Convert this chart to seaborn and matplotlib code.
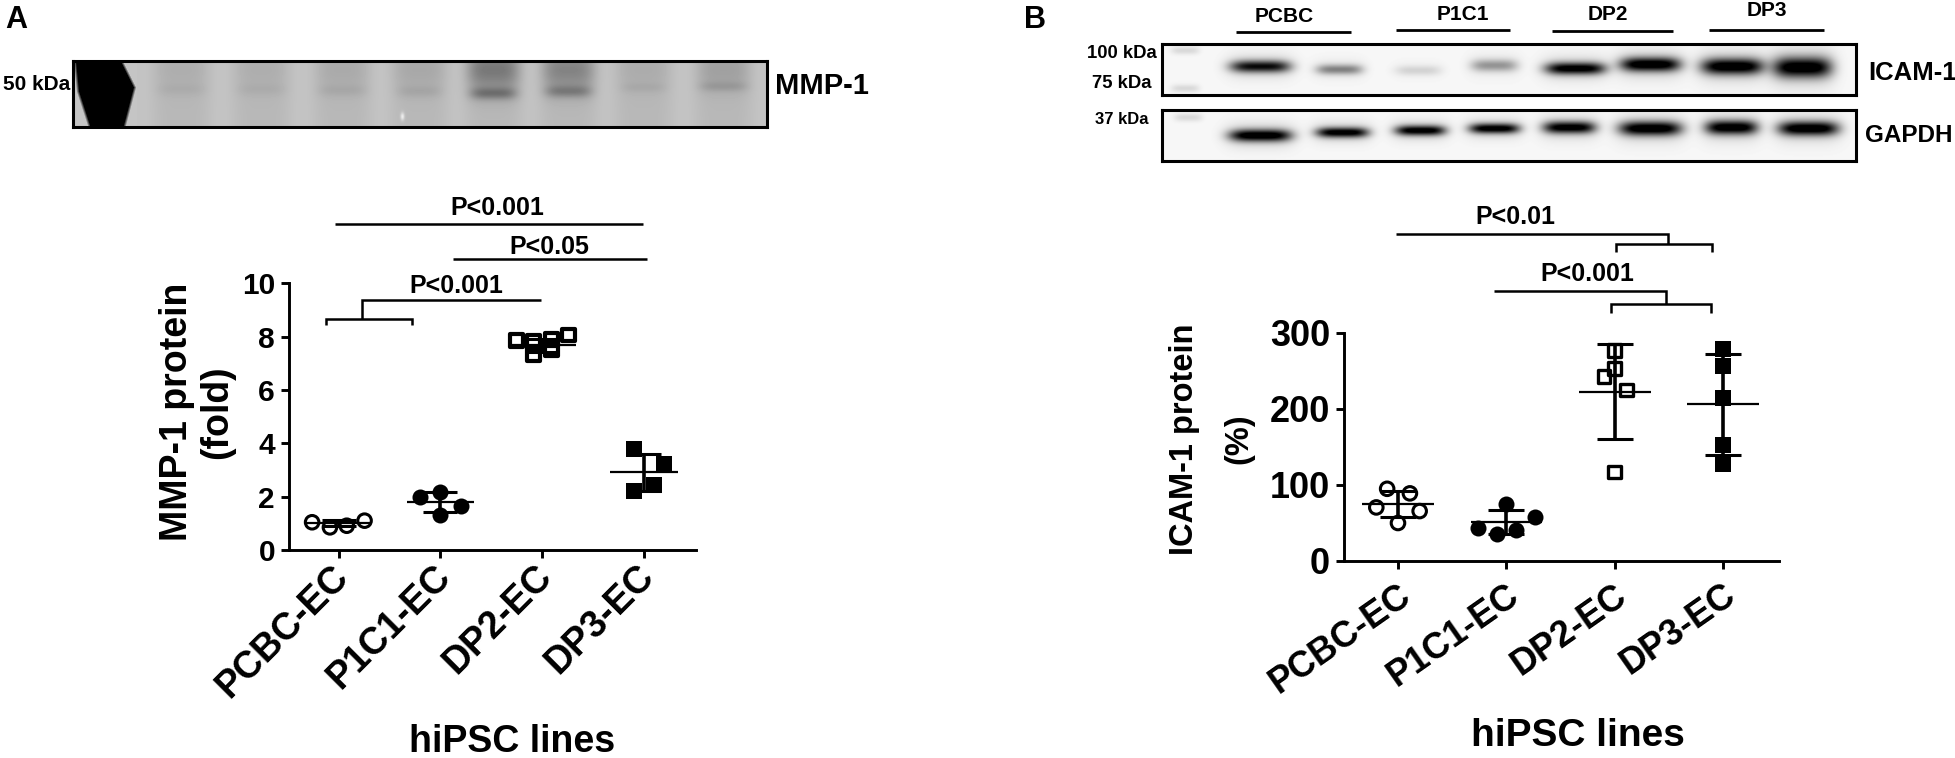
import matplotlib
matplotlib.use('Agg')
import matplotlib.pyplot as plt
from matplotlib.lines import Line2D
from matplotlib.transforms import ScaledTranslation
import seaborn as sns
import pandas as pd
import numpy as np

FIG_W, FIG_H = 1955, 758

CELL_LINES = ['PCBC-EC', 'P1C1-EC', 'DP2-EC', 'DP3-EC']

# Panel A, MMP-1 fold
MMP_PCBC = [1.04, 0.85, 0.91, 1.10]
MMP_P1C1 = [1.98, 2.19, 1.65, 1.31]
MMP_DP2 = [7.86, 7.81, 7.53, 8.06, 7.31, 7.90]
MMP_DP3 = [3.78, 3.21, 2.44, 2.20]
MMP_JITTER = [
    [-0.26, -0.085, 0.08, 0.255],
    [-0.2, 0.0, 0.2, 0.0],
    [-0.25, -0.085, 0.09, 0.255, -0.085, 0.09],
    [-0.1, 0.2, 0.1, -0.1],
]
MMP_MEAN = [1.02, 1.79, 7.68, 2.91]
MMP_SD = [0.12, 0.38, 0.24, 0.70]

# Panel B, ICAM-1 percent
ICAM_PCBC = [95, 89, 70.5, 65.7, 50]
ICAM_P1C1 = [75, 58, 43, 35.5, 41]
ICAM_DP2 = [277, 253, 243, 225, 117]
ICAM_DP3 = [279, 257, 215, 153, 127]
ICAM_JITTER = [
    [-0.1, 0.11, -0.2, 0.2, 0.0],
    [0.0, 0.26, -0.26, -0.09, 0.09],
    [0.0, 0.0, -0.1, 0.11, 0.0],
    [0.0, 0.0, 0.0, 0.0, 0.0],
]
ICAM_MEAN = [75, 51, 223, 206]
ICAM_SD = [17, 16, 63, 66]

# Blot lanes: centre x, band y, band half width, band half height, darkness
MMP_BANDS = [
    (108, 28, 24, 6, 0.05), (188, 28, 24, 6, 0.05), (269, 29, 24, 6, 0.07),
    (346, 30, 22, 6, 0.08), (420, 32, 23, 6, 0.33), (495, 30, 23, 6, 0.27),
    (570, 26, 22, 5, 0.06), (650, 25, 24, 5, 0.12),
]
ICAM_BANDS = [
    (98, 22, 30, 6, 0.85), (177, 25, 23, 5, 0.42), (256, 26, 23, 5, 0.13),
    (332, 21, 23, 6, 0.35), (413, 24, 30, 6, 0.95), (488, 20, 30, 7, 1.0),
    (570, 22, 31, 8, 1.0), (640, 23, 29, 10, 1.0),
]
GAPDH_BANDS = [
    (98, 25, 31, 6, 1.0), (180, 22, 26, 5, 0.95), (258, 20, 25, 5, 0.95),
    (332, 18, 25, 5, 0.95), (407, 17, 26, 6, 0.95), (488, 18, 31, 7, 1.0),
    (569, 17, 26, 7, 0.98), (646, 18, 30, 7, 1.0),
]


def px_axes(fig, left, top, right, bottom):
    """Axes placed by pixel edges, y measured from the top."""
    return fig.add_axes([left / FIG_W, 1 - bottom / FIG_H,
                         (right - left) / FIG_W, (bottom - top) / FIG_H])


def px_text(fig, x, y, s, size, weight='bold', ha='center'):
    fig.text(x / FIG_W, 1 - y / FIG_H, s, fontsize=size, fontweight=weight,
             ha=ha, va='center', color='black')


def px_line(fig, xs, ys, lw=1.8):
    fig.add_artist(Line2D([x / FIG_W for x in xs], [1 - y / FIG_H for y in ys],
                          color='black', lw=lw, solid_capstyle='butt',
                          solid_joinstyle='miter'))


def band_layer(xx, yy, bands):
    dark = np.zeros_like(xx)
    for cx, cy, wx, wy, amount in bands:
        core = np.exp(-(np.abs(xx - cx) / wx) ** 4 - (np.abs(yy - cy) / wy) ** 2)
        halo = np.exp(-(np.abs(xx - cx) / (wx + 4)) ** 4 - (np.abs(yy - cy) / (wy * 2.2)) ** 2)
        dark += amount * (core + 0.15 * halo)
    return np.clip(dark, 0, 1)


def draw_blot(ax, img):
    ax.imshow(img, cmap='gray', vmin=0, vmax=1, aspect='auto')
    ax.set_xticks([])
    ax.set_yticks([])
    for spine in ax.spines.values():
        spine.set_visible(True)
        spine.set_linewidth(2.2)
        spine.set_color('black')


def mmp_blot():
    w, h = 694, 66
    xx, yy = np.meshgrid(np.arange(w, dtype=float), np.arange(h, dtype=float))
    img = np.full((h, w), 0.77)
    # lane smear, darker in the upper half of the middle lanes
    for (cx, _, _, _, amount) in MMP_BANDS:
        img -= 0.05 * np.exp(-((xx - cx) / 30) ** 4)
        img -= amount * 0.75 * np.exp(-((xx - cx) / 26) ** 4 - ((yy - 8) / 20) ** 2)
    img -= 0.62 * band_layer(xx, yy, MMP_BANDS)
    # saturated ladder blob on the left
    right = np.interp(yy, [0, 26, 64], [50, 63, 53])
    left = np.interp(yy, [0, 30, 64], [0, 3, 14])
    blob = np.clip(np.minimum(right - xx, xx - left) / 3, 0, 1)
    img = img * (1 - blob)
    img += 0.2 * np.exp(-((xx - 329) / 2) ** 2 - ((yy - 55) / 4) ** 2)
    return np.clip(img, 0, 1)


def wb_blot(bands, ladder):
    w, h = 694, 51
    xx, yy = np.meshgrid(np.arange(w, dtype=float), np.arange(h, dtype=float))
    img = np.full((h, w), 0.97)
    img -= 0.97 * band_layer(xx, yy, bands)
    for lx, ly in ladder:
        img -= 0.12 * np.exp(-((xx - lx) / 14) ** 4 - ((yy - ly) / 4) ** 2)
    return np.clip(img, 0, 1)


def plot_dots(ax, groups, jitter, means, sds, square_edge):
    """Scatter of each cell line with mean line and SD whiskers."""
    # marker, area, edge width (0 means filled)
    styles = [('o', 95, 2.2), ('o', 133, 0), ('s', 85, square_edge), ('s', 117, 0)]
    for i, (vals, off, (mk, area, edge)) in enumerate(zip(groups, jitter, styles)):
        df = pd.DataFrame({'pos': [i + o for o in off], 'value': vals})
        sns.scatterplot(data=df, x='pos', y='value', ax=ax, marker=mk, s=area,
                        color='none' if edge else 'black', edgecolor='black',
                        linewidth=edge, clip_on=False, zorder=3)
        ax.hlines(means[i], i - 0.33, i + 0.33, color='black', lw=1.6, zorder=4)
        ax.errorbar(i, means[i], yerr=sds[i], color='black', elinewidth=2.6,
                    capsize=0, zorder=4)
        ax.hlines([means[i] - sds[i], means[i] + sds[i]], i - 0.167, i + 0.167,
                  color='black', lw=2.2, zorder=4)


def style_axes(ax, xlim, ylim, yticks, tick_size, x_size, rot, pad, shift_x):
    ax.set_xlim(*xlim)
    ax.set_ylim(*ylim)
    ax.set_yticks(yticks)
    ax.set_xticks(range(4))
    ax.set_xticklabels(CELL_LINES, rotation=rot, ha='right',
                       rotation_mode='anchor', fontsize=x_size, fontweight='bold')
    ax.tick_params(axis='y', length=6, width=2.1, labelsize=tick_size, pad=4)
    ax.tick_params(axis='x', length=6, width=2.1, pad=pad)
    offset = ScaledTranslation(shift_x / 100, 0, ax.figure.dpi_scale_trans)
    for lab in ax.get_xticklabels():
        lab.set_transform(lab.get_transform() + offset)
    for lab in ax.get_yticklabels():
        lab.set_fontweight('bold')
    sns.despine(ax=ax)
    ax.spines['left'].set_linewidth(2.1)
    ax.spines['bottom'].set_linewidth(2.1)
    ax.patch.set_alpha(0)


def main():
    sns.set_theme(style='ticks')
    plt.rcParams['font.family'] = ['Liberation Sans', 'DejaVu Sans']
    plt.rcParams.update({'text.color': 'black', 'axes.labelcolor': 'black',
                         'xtick.color': 'black', 'ytick.color': 'black',
                         'axes.edgecolor': 'black'})
    fig = plt.figure(figsize=(FIG_W / 100, FIG_H / 100), dpi=100, facecolor='white')

    # --- Panel A ---
    px_text(fig, 16, 20, 'A', 22)
    ax_blot = px_axes(fig, 73, 61, 767, 127)
    draw_blot(ax_blot, mmp_blot())
    px_text(fig, 3, 85, '50 kDa', 15, ha='left')
    px_text(fig, 775, 86, 'MMP-1', 21, ha='left')

    ax = px_axes(fig, 289, 283.3, 696, 550)
    plot_dots(ax, [MMP_PCBC, MMP_P1C1, MMP_DP2, MMP_DP3], MMP_JITTER,
              MMP_MEAN, MMP_SD, 3.0)
    style_axes(ax, (-0.487, 3.51), (0, 10), [0, 2, 4, 6, 8, 10], 21.5, 27, 45, 0, -8)
    ax.set_xlabel('hiPSC lines', fontsize=27, fontweight='bold', va='center')
    ax.xaxis.set_label_coords(0.548, -0.72)
    ax.set_ylabel('MMP-1 protein\n(fold)', fontsize=27, fontweight='bold', linespacing=1.15)
    ax.yaxis.set_label_coords(-0.133, 0.517)

    px_line(fig, [335, 643], [224, 224])
    px_text(fig, 497, 208, 'P<0.001', 18)
    px_line(fig, [452.6, 646.6], [259, 259])
    px_text(fig, 549, 247, 'P<0.05', 18)
    px_line(fig, [541.4, 361.5, 361.5], [300, 300, 319])
    px_line(fig, [326, 326, 412, 412], [325, 319, 319, 325])
    px_text(fig, 456, 286, 'P<0.001', 18)

    # --- Panel B ---
    px_text(fig, 1035, 20, 'B', 22)
    ax_icam = px_axes(fig, 1161.5, 44, 1855.5, 95)
    draw_blot(ax_icam, wb_blot(ICAM_BANDS, [(23, 6), (23, 44)]))
    ax_gapdh = px_axes(fig, 1161.5, 110, 1855.5, 161)
    draw_blot(ax_gapdh, wb_blot(GAPDH_BANDS, [(26, 7)]))

    for name, x, y, x0, x1, ly in [('PCBC', 1284, 16, 1236, 1351, 32),
                                   ('P1C1', 1463, 15, 1396, 1510, 30),
                                   ('DP2', 1608, 14, 1552, 1673, 31),
                                   ('DP3', 1767, 10, 1709, 1824, 30)]:
        px_text(fig, x, y, name, 15)
        px_line(fig, [x0, x1], [ly, ly], lw=2)
    px_text(fig, 1122, 53, '100 kDa', 13.3)
    px_text(fig, 1122, 84, '75 kDa', 13.3)
    px_text(fig, 1122, 120, '37 kDa', 12)
    px_text(fig, 1868, 73, 'ICAM-1', 18.5, ha='left')
    px_text(fig, 1865, 136, 'GAPDH', 17.5, ha='left')

    ax = px_axes(fig, 1344, 333, 1779, 561)
    plot_dots(ax, [ICAM_PCBC, ICAM_P1C1, ICAM_DP2, ICAM_DP3], ICAM_JITTER,
              ICAM_MEAN, ICAM_SD, 2.4)
    style_axes(ax, (-0.498, 3.515), (0, 300), [0, 100, 200, 300], 26, 26, 35, 6, -1)
    ax.set_xlabel('hiPSC lines', fontsize=28, fontweight='bold', va='center')
    ax.xaxis.set_label_coords(0.538, -0.7675)
    ax.set_ylabel('ICAM-1 protein\n(%)', fontsize=23.5, fontweight='bold', linespacing=1.95)
    ax.yaxis.set_label_coords(-0.207, 0.535)

    px_line(fig, [1396, 1668, 1668], [234, 234, 244])
    px_line(fig, [1616, 1616, 1712, 1712], [252, 244, 244, 252])
    px_text(fig, 1515, 217, 'P<0.01', 18)
    px_line(fig, [1494, 1666, 1666], [291, 291, 304])
    px_line(fig, [1611, 1611, 1711, 1711], [313, 304, 304, 313])
    px_text(fig, 1587, 274, 'P<0.001', 18)

    fig.savefig('out.png', dpi=100)
    plt.close(fig)


if __name__ == '__main__':
    main()
